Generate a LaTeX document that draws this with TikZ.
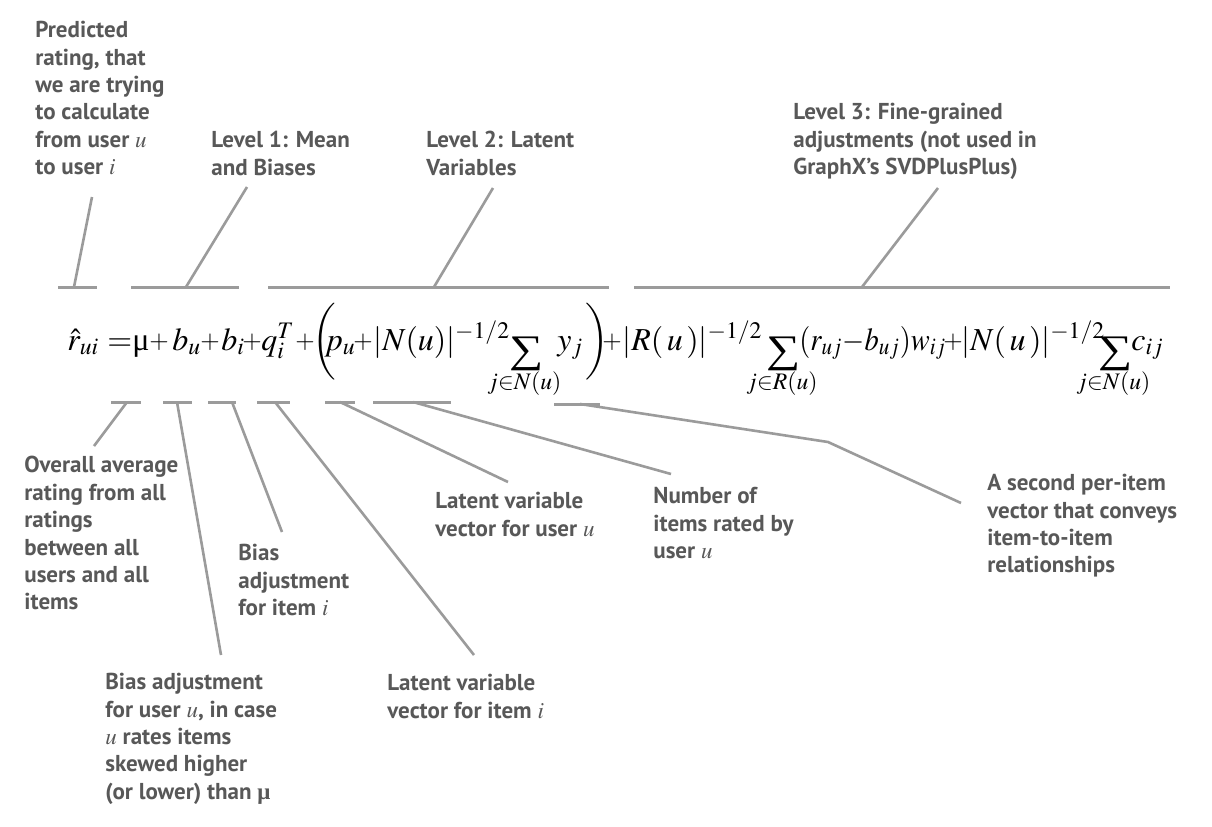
\documentclass[tikz,border=0pt]{standalone}
\usepackage{mathptmx}
\usepackage{graphicx}
\usepackage[no-math]{fontspec}
\newfontfamily\labfont{PT Sans}
\newfontfamily\serifu{Liberation Serif}
\definecolor{labc}{RGB}{88,88,88}
\definecolor{lnc}{RGB}{155,155,155}
\newcommand\bigsum{\mathop{\hbox{\kern2pt\raisebox{-6pt}[8pt][8pt]{\scalebox{1.5}[1.22]{\serifu ∑}}}}\limits}
\newcommand\smplus{\raisebox{0.9pt}{\fontsize{12.5}{15}\selectfont$+$}}
\begin{document}
\begin{tikzpicture}[x=0.5pt,y=-0.5pt,
  lab/.style={anchor=north west, inner sep=0pt, align=left, text=labc,
    font=\labfont\bfseries\fontsize{11.5}{13.7}\selectfont},
  eq/.style={anchor=base west, inner sep=0pt, font=\fontsize{16}{19}\selectfont},
  eqp/.style={anchor=base, inner sep=0pt, font=\fontsize{16}{19}\selectfont},
  bar/.style={draw=lnc, line width=1.5pt},
  lead/.style={draw=lnc, line width=1.3pt}]
\useasboundingbox (0,0) rectangle (1212,826);
\fill[white] (0,0) rectangle (1212,826);

% ---- labels ----
\node[lab] (pred) at (35,21) {Predicted\\rating, that\\we are trying\\to calculate\\from user $u$\\to user $i$};
\node[lab] (lv1) at (211,131) {Level 1: Mean\\and Biases};
\node[lab] (lv2) at (426,131) {Level 2: Latent\\Variables};
\node[lab] (lv3) at (793,103) {Level 3: Fine-grained\\adjustments (not used in\\GraphX’s SVDPlusPlus)};
\node[lab] (overall) at (24,456) {Overall average\\rating from all\\ratings\\between all\\users and all\\items};
\node[lab] (biasu) at (105,673) {Bias adjustment\\for user $u$, in case\\$u$ rates items\\skewed higher\\(or lower) than {\serifu μ}};
\node[lab] (biasi) at (238,544) {Bias\\adjustment\\for item $i$};
\node[lab] (latitem) at (387,674) {Latent variable\\vector for item $i$};
\node[lab] (latuser) at (435,492) {Latent variable\\vector for user $u$};
\node[lab] (number) at (653,487) {Number of\\items rated by\\user $u$};
\node[lab] (second) at (987,474) {A second per-item\\vector that conveys\\item-to-item\\relationships};

% ---- equation ----
\node[eq] (e1) at (67,350) {$\hat r_{ui}$};
\node[eq] (e2) at (107,350) {$=$};
\node[eq] (e3) at (132,350) {\serifu μ};
\node[eqp] (e4) at (159,350) {\smplus};
\node[eq] (e5) at (172,350) {$b_u$};
\node[eqp] (e6) at (210,350) {\smplus};
\node[eq] (e7) at (221,350) {$b_i$};
\node[eqp] (e8) at (252,350) {\smplus};
\node[eq] (e9) at (261,350) {$q_i^T$};
\node[eqp] (e10) at (305,350) {\smplus};
\node[eq] (e11) at (312,350) {$\biggl($};
\node[eq] (e12) at (324,350) {$p_u$};
\node[eqp] (e13) at (363,350) {\smplus};
\node[eq] (e14) at (373,350) {$|N(u)|^{-1/2}$};
\node[eq] (e15) at (487,350) {$\bigsum_{j\in N(u)}$};
\node[eq] (e16) at (557,350) {$y_j$};
\node[eq] (e17) at (585,350) {$\biggr)$};
\node[eqp] (e18) at (612,350) {\smplus};
\node[eq] (e19) at (622,350) {$|R(\,u\,)|^{-1/2}$};
\node[eq] (e20) at (746,350) {$\bigsum_{j\in R(u)}$};
\node[eq] (e21) at (799,350) {\scalebox{0.89}[1]{$(r_{uj}{-}b_{uj})w_{ij}$}};
\node[eqp] (e22) at (953,350) {\smplus};
\node[eq] (e23) at (961,350) {$|N(\mkern2mu u\mkern2mu)|^{-1/2}$};
\node[eq] (e24) at (1076,350) {$\bigsum_{j\in N(u)}$};
\node[eq] (e25) at (1131,350) {$c_{ij}$};

% ---- top brackets ----
\coordinate (t1a) at (58,287);  \coordinate (t1b) at (97,287);  \coordinate (t1m) at (74,287);  \coordinate (t1e) at (92,197);
\coordinate (t2a) at (131,287); \coordinate (t2b) at (239,287); \coordinate (t2m) at (186,287); \coordinate (t2e) at (247,187);
\coordinate (t3a) at (268,287); \coordinate (t3b) at (609,287); \coordinate (t3m) at (434,287); \coordinate (t3e) at (493,188);
\coordinate (t4a) at (634,287); \coordinate (t4b) at (1170,287); \coordinate (t4m) at (862,287); \coordinate (t4e) at (938,188);
\draw[bar] (t1a) -- (t1b); \draw[lead] (t1m) -- (t1e);
\draw[bar] (t2a) -- (t2b); \draw[lead] (t2m) -- (t2e);
\draw[bar] (t3a) -- (t3b); \draw[lead] (t3m) -- (t3e);
\draw[bar] (t4a) -- (t4b); \draw[lead] (t4m) -- (t4e);

% ---- bottom brackets ----
\coordinate (b1a) at (111,402); \coordinate (b1b) at (141,402); \coordinate (b1m) at (127,402); \coordinate (b1e) at (94,446);
\coordinate (b2a) at (163,402); \coordinate (b2b) at (192,402); \coordinate (b2m) at (177,402); \coordinate (b2e) at (221,655);
\coordinate (b3a) at (208,402); \coordinate (b3b) at (236,402); \coordinate (b3m) at (232,402); \coordinate (b3e) at (282,532);
\coordinate (b4a) at (257,402); \coordinate (b4b) at (290,402); \coordinate (b4m) at (275,402); \coordinate (b4e) at (474,655);
\coordinate (b5a) at (325,402); \coordinate (b5b) at (355,402); \coordinate (b5m) at (340,402); \coordinate (b5e) at (508,482);
\coordinate (b6a) at (373,402); \coordinate (b6b) at (451,402); \coordinate (b6m) at (413,402); \coordinate (b6e) at (671,474);
\coordinate (b7a) at (554,404); \coordinate (b7b) at (600,404); \coordinate (b7m) at (580,404); \coordinate (b7k) at (828,442); \coordinate (b7e) at (961,503);
\draw[bar] (b1a) -- (b1b); \draw[lead] (b1m) -- (b1e);
\draw[bar] (b2a) -- (b2b); \draw[lead] (b2m) -- (b2e);
\draw[bar] (b3a) -- (b3b); \draw[lead] (b3m) -- (b3e);
\draw[bar] (b4a) -- (b4b); \draw[lead] (b4m) -- (b4e);
\draw[bar] (b5a) -- (b5b); \draw[lead] (b5m) -- (b5e);
\draw[bar] (b6a) -- (b6b); \draw[lead] (b6m) -- (b6e);
\draw[bar] (b7a) -- (b7b); \draw[lead] (b7m) -- (b7k) -- (b7e);
\end{tikzpicture}
\end{document}
